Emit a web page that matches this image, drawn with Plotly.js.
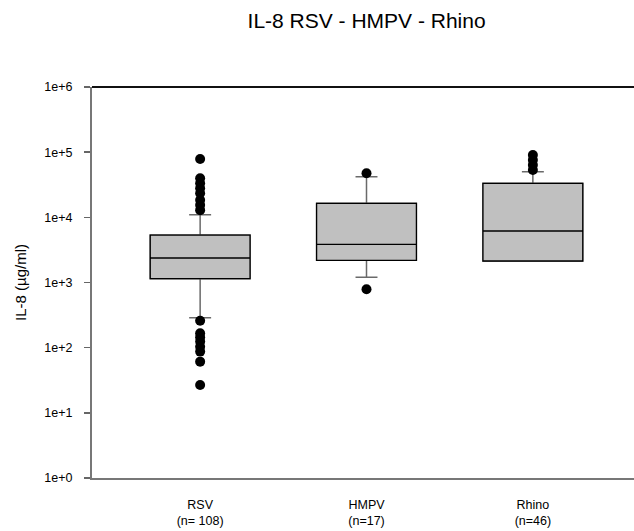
<!DOCTYPE html>
<html>
<head>
<meta charset="utf-8">
<script src="https://cdn.plot.ly/plotly-3.0.1.min.js"></script>
<style>
html,body{margin:0;padding:0;overflow:hidden;background:#fff;}
#chart{width:660px;height:531px;}
</style>
</head>
<body>
<div id="chart"></div>
<script>
// Categories and tick labels
const categories = ["RSV", "HMPV", "Rhino"];
const categoryLabels = ["RSV<br>(n= 108)", "HMPV<br>(n=17)", "Rhino<br>(n=46)"];

// Box statistics (IL-8, µg/ml)
const q1Values = [1143, 2190, 2137];
const medianValues = [2377, 3855, 6166];
const q3Values = [5350, 16400, 33270];
const lowerFenceValues = [288, 1202, 2137];
const upperFenceValues = [10970, 42000, 50100];

// Outliers per group
const rsvOutliers = [78500, 39700, 33300, 27900, 23400, 18500, 15500, 12900,
                     259, 166, 144, 124, 103, 87, 61, 26.7];
const hmpvOutliers = [47400, 787];
const rhinoOutliers = [90400, 75800, 63500, 53200];

// Y tick labels
const yTickVals = [1, 10, 100, 1000, 10000, 100000, 1000000];
const yTickText = ["1e+0", "1e+1", "1e+2", "1e+3", "1e+4", "1e+5", "1e+6"];

const font = "Arial, 'Liberation Sans', sans-serif";

const whiskerTrace = {
  type: "box",
  x: categories,
  q1: q1Values, median: medianValues, q3: q3Values,
  lowerfence: lowerFenceValues, upperfence: upperFenceValues,
  width: 0.6,
  whiskerwidth: 0.22,
  fillcolor: "#c0c0c0",
  line: {color: "#6a6a6a", width: 1.5},
  boxpoints: false,
  hoverinfo: "skip",
  showlegend: false
};
const boxTrace = {
  type: "box",
  x: categories,
  q1: q1Values, median: medianValues, q3: q3Values,
  lowerfence: q1Values, upperfence: q3Values,
  width: 0.6,
  whiskerwidth: 0,
  fillcolor: "#c0c0c0",
  line: {color: "#000000", width: 1.3},
  boxpoints: false,
  showlegend: false
};
const outX = [], outY = [];
rsvOutliers.forEach(v => {outX.push(categories[0]); outY.push(v);});
hmpvOutliers.forEach(v => {outX.push(categories[1]); outY.push(v);});
rhinoOutliers.forEach(v => {outX.push(categories[2]); outY.push(v);});
const outlierTrace = {
  type: "scatter", mode: "markers",
  x: outX, y: outY,
  marker: {color: "#000", size: 10},
  showlegend: false
};

const layout = {
  width: 660, height: 531,
  margin: {l: 92, r: 19, t: 87, b: 53},
  paper_bgcolor: "#fff", plot_bgcolor: "#fff",
  font: {family: font, color: "#000"},
  boxmode: "overlay",
  showlegend: false,
  title: {text: "IL-8 RSV - HMPV - Rhino", font: {size: 21, family: font, color: "#000"},
          x: 0.5555, xanchor: "center", y: 0.962, yanchor: "middle", yref: "container"},
  xaxis: {
    type: "category",
    range: [-0.65, 2.65],
    tickvals: categories, ticktext: categoryLabels,
    ticks: "", showgrid: false, zeroline: false,
    ticklabelstandoff: 14,
    showline: true, linecolor: "#777", linewidth: 2,
    tickfont: {size: 12.5, family: font, color: "#000"}
  },
  yaxis: {
    type: "log",
    range: [0, 6],
    tickvals: yTickVals, ticktext: yTickText,
    ticks: "outside", ticklen: 6, tickcolor: "#666", tickwidth: 1.5,
    ticklabelstandoff: 9,
    showgrid: false, zeroline: false,
    showline: true, linecolor: "#777", linewidth: 2,
    tickfont: {size: 12.5, family: font, color: "#000"},
    title: {text: "IL-8 (µg/ml)", font: {size: 15, family: font, color: "#000"}, standoff: 14}
  },
  shapes: [{type: "line", xref: "paper", yref: "paper", x0: 0, x1: 1, y0: 1, y1: 1,
            line: {color: "#111", width: 2}}]
};

Plotly.newPlot("chart", [whiskerTrace, boxTrace, outlierTrace], layout, {staticPlot: true, displayModeBar: false});
</script>
</body>
</html>
